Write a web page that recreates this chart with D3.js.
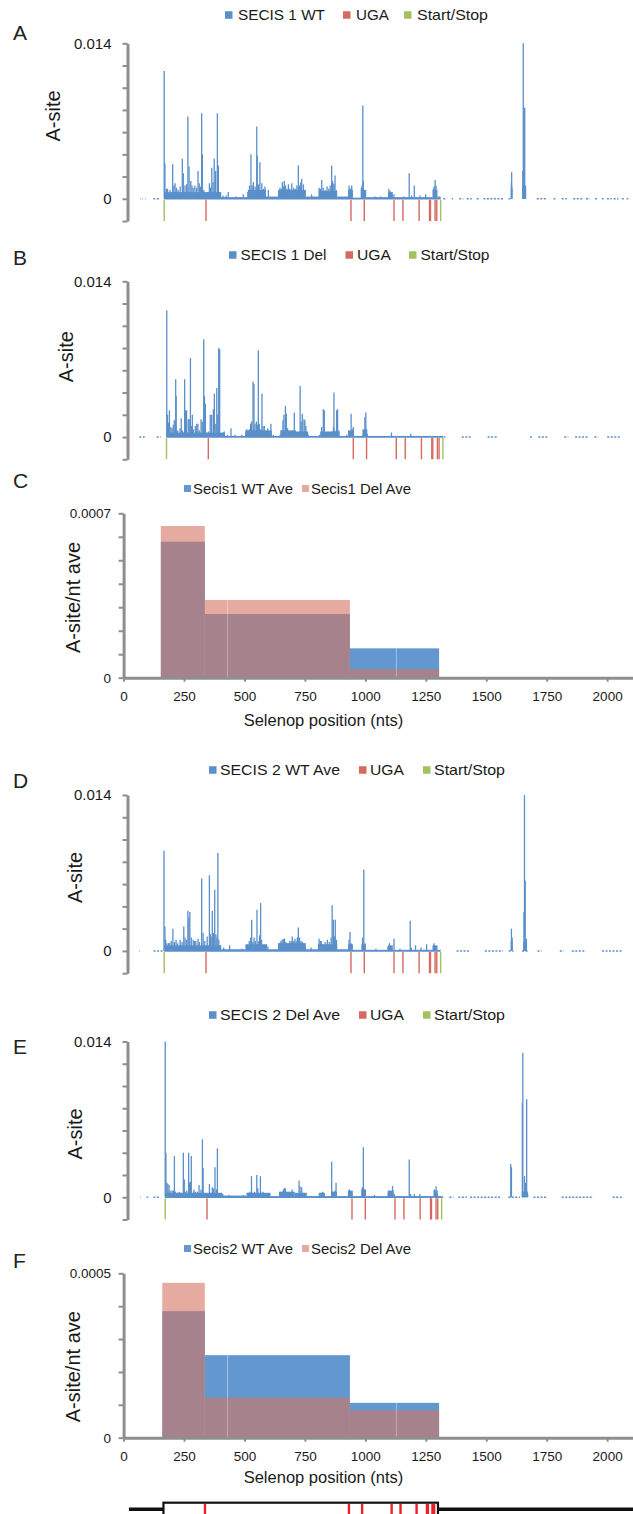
<!DOCTYPE html>
<html lang="en">
<head>
<meta charset="utf-8">
<title>Selenop A-site profiles</title>
<script src="https://cdn.jsdelivr.net/npm/d3@7"></script>
<style>
  body { margin: 0; background: #fff; }
  svg { display: block; font-family: "Liberation Sans", Arial, sans-serif; }
  .axis path, .axis line { stroke: #8e8e8e; }
  .axis path { stroke-width: 3px; }
  .axis line { stroke-width: 2px; }
  .axis text { fill: #1a1a1a; }
</style>
</head>
<body>
<script>
// ---------------- data ----------------
var ugaNt = [327, 927, 982, 1105, 1142, 1209, 1252, 1256, 1275, 1282];
var startStopNt = [154, 1298];
var mrnaExtent = [10, 2120];

var traceTicks = [-0.002, 0, 0.002, 0.004, 0.006, 0.008, 0.010, 0.012, 0.014];
var traceTickLabels = [0, 0.014];

// [nt, A-site value]
var peaksA = [[154,0.0115],[157,0.0032],[163,0.0009],[168,0.0009],[178,0.0008],[189,0.0031],[194,0.0012],[199,0.0014],[205,0.0010],[212,0.0008],[220,0.0011],[229,0.0036],[233,0.0023],[240,0.0012],[247,0.0013],[252,0.0074],[257,0.0029],[264,0.0016],[269,0.0012],[274,0.0010],[281,0.0012],[288,0.0010],[294,0.0025],[299,0.0014],[304,0.0011],[309,0.0077],[312,0.0040],[318,0.0008],[327,0.0003],[334,0.0006],[341,0.0014],[346,0.0010],[351,0.0028],[356,0.0015],[361,0.0036],[367,0.0025],[374,0.0077],[378,0.0030],[384,0.0006],[397,0.0003],[410,0.0003],[419,0.0006],[450,0.0002],[481,0.0004],[500,0.0006],[507,0.0012],[513,0.0040],[518,0.0012],[523,0.0015],[530,0.0011],[537,0.0065],[539,0.0039],[544,0.0013],[550,0.0033],[558,0.0014],[565,0.0009],[571,0.0011],[585,0.0008],[633,0.0010],[638,0.0009],[643,0.0015],[648,0.0011],[651,0.0016],[656,0.0012],[662,0.0009],[668,0.0013],[674,0.0009],[682,0.0014],[690,0.0010],[697,0.0009],[703,0.0012],[709,0.0030],[714,0.0012],[719,0.0015],[723,0.0018],[730,0.0013],[736,0.0007],[764,0.0004],[795,0.0010],[800,0.0009],[806,0.0017],[812,0.0010],[820,0.0008],[828,0.0011],[835,0.0009],[841,0.0012],[847,0.0030],[850,0.0016],[853,0.0014],[857,0.0013],[861,0.0021],[866,0.0008],[919,0.0012],[922,0.0009],[925,0.0009],[930,0.0012],[970,0.0010],[973,0.0012],[976,0.0084],[978,0.0016],[982,0.0005],[1026,0.0002],[1050,0.0002],[1084,0.0009],[1089,0.0007],[1093,0.0005],[1097,0.0004],[1105,0.0004],[1146,0.0002],[1168,0.0023],[1178,0.0003],[1189,0.0012],[1213,0.0003],[1236,0.0004],[1268,0.0009],[1271,0.0011],[1275,0.0017],[1279,0.0012],[1591,0.0015],[1592,0.0024],[1638,0.0025],[1640,0.0140],[1643,0.0082],[1646,0.0082],[1649,0.0012]];
var floorsA = [[154,390,0.0006],[390,500,0.00015],[500,575,0.0008],[575,625,0.0002],[625,740,0.0008],[740,795,0.0002],[795,870,0.0007],[870,915,0.0002],[915,935,0.0008],[935,968,0.0001],[968,990,0.0008],[990,1080,0.00015],[1080,1100,0.0006],[1100,1265,0.00015],[1265,1285,0.0008],[1285,1298,0.0002],[1588,1596,0.0010],[1636,1652,0.0010]];
var utrA = [[54,56],[63,65],[75,77],[109,136],[1309,1323],[1344,1350],[1375,1392],[1406,1427],[1447,1461],[1475,1558],[1579,1592],[1696,1737],[1765,1778],[1799,1820],[1847,1887],[1900,1916],[1937,1951],[1965,1979],[1986,2006],[2014,2034],[2048,2061],[2068,2075]];

var peaksB = [[155,0.0114],[158,0.0020],[162,0.0013],[166,0.0024],[172,0.0009],[177,0.0008],[182,0.0011],[186,0.0015],[192,0.0052],[194,0.0037],[200,0.0006],[203,0.0003],[210,0.0008],[215,0.0017],[220,0.0006],[224,0.0004],[229,0.0052],[233,0.0024],[237,0.0024],[244,0.0016],[248,0.0016],[253,0.0071],[257,0.0010],[261,0.0020],[265,0.0007],[273,0.0010],[279,0.0012],[284,0.0012],[290,0.0006],[297,0.0016],[302,0.0014],[308,0.0088],[311,0.0037],[315,0.0030],[320,0.0003],[327,0.0005],[335,0.0020],[341,0.0020],[348,0.0025],[352,0.0039],[358,0.0012],[362,0.0044],[366,0.0020],[370,0.0080],[374,0.0079],[380,0.0003],[389,0.0004],[393,0.0005],[406,0.0002],[421,0.0008],[438,0.0002],[465,0.0002],[482,0.0004],[486,0.0007],[497,0.0007],[502,0.0012],[506,0.0014],[512,0.0050],[516,0.0048],[520,0.0012],[526,0.0014],[530,0.0011],[534,0.0078],[538,0.0012],[544,0.0007],[549,0.0039],[553,0.0010],[559,0.0010],[564,0.0004],[573,0.0008],[582,0.0005],[586,0.0012],[596,0.0002],[624,0.0002],[630,0.0006],[636,0.0015],[640,0.0020],[646,0.0028],[650,0.0021],[655,0.0008],[662,0.0004],[669,0.0005],[676,0.0006],[683,0.0022],[689,0.0004],[698,0.0003],[707,0.0046],[711,0.0014],[716,0.0021],[723,0.0016],[727,0.0015],[731,0.0010],[741,0.0002],[755,0.0001],[787,0.0002],[796,0.0009],[803,0.0025],[807,0.0024],[824,0.0003],[838,0.0005],[845,0.0009],[847,0.0040],[851,0.0006],[858,0.0024],[862,0.0025],[867,0.0006],[900,0.0002],[911,0.0005],[918,0.0021],[923,0.0007],[927,0.0009],[968,0.0003],[975,0.0018],[979,0.0022],[985,0.0003],[1085,0.0004],[1165,0.0003]];
var floorsB = [[154,395,0.0004],[395,480,0.0001],[480,590,0.0006],[590,625,0.0001],[625,690,0.0006],[690,740,0.0005],[740,790,0.0001],[790,870,0.0005],[870,905,0.0001],[905,930,0.0006],[930,965,0.0001],[965,985,0.0007],[985,1298,0.0001]];
var utrB = [[41,69],[113,130],[1300,1310],[1376,1417],[1483,1525],[1658,1667],[1693,1732],[1800,1817],[1845,1900],[1925,1941],[1978,2031]];

var peaksD = [[153,0.0090],[157,0.0022],[160,0.0010],[165,0.0007],[172,0.0007],[177,0.0007],[183,0.0009],[190,0.0020],[196,0.0008],[203,0.0010],[210,0.0007],[220,0.0010],[228,0.0008],[235,0.0022],[240,0.0012],[246,0.0010],[252,0.0036],[256,0.0030],[260,0.0035],[266,0.0012],[274,0.0010],[280,0.0009],[285,0.0009],[294,0.0011],[300,0.0008],[309,0.0065],[315,0.0016],[322,0.0009],[332,0.0013],[341,0.0068],[345,0.0015],[348,0.0013],[353,0.0036],[358,0.0016],[363,0.0055],[368,0.0015],[372,0.0012],[376,0.0088],[380,0.0010],[386,0.0005],[400,0.0003],[425,0.0005],[475,0.0002],[495,0.0004],[506,0.0009],[512,0.0012],[516,0.0028],[521,0.0008],[526,0.0012],[531,0.0009],[538,0.0037],[545,0.0009],[549,0.0014],[553,0.0043],[557,0.0010],[561,0.0004],[571,0.0005],[583,0.0004],[631,0.0007],[637,0.0009],[642,0.0010],[647,0.0011],[652,0.0011],[658,0.0008],[665,0.0006],[674,0.0009],[680,0.0009],[684,0.0013],[690,0.0009],[695,0.0011],[700,0.0009],[705,0.0012],[709,0.0021],[714,0.0012],[720,0.0009],[726,0.0008],[737,0.0004],[762,0.0003],[795,0.0011],[800,0.0009],[804,0.0009],[810,0.0006],[820,0.0008],[829,0.0010],[837,0.0008],[845,0.0012],[849,0.0041],[854,0.0028],[858,0.0013],[862,0.0028],[867,0.0010],[919,0.0010],[923,0.0017],[928,0.0007],[975,0.0012],[980,0.0073],[985,0.0007],[1030,0.0002],[1080,0.0004],[1086,0.0007],[1092,0.0004],[1105,0.0011],[1130,0.0002],[1172,0.0027],[1177,0.0003],[1194,0.0005],[1217,0.0003],[1240,0.0006],[1268,0.0005],[1271,0.0007],[1276,0.0004],[1591,0.0020],[1594,0.0012],[1643,0.0035],[1645,0.0140],[1648,0.0063],[1653,0.0011]];
var floorsD = [[154,390,0.0005],[390,490,0.00015],[490,580,0.0006],[580,625,0.00015],[625,740,0.0007],[740,790,0.00015],[790,870,0.0006],[870,915,0.00015],[915,935,0.0006],[935,970,0.0001],[970,988,0.0006],[988,1080,0.0001],[1080,1100,0.0005],[1100,1265,0.0001],[1265,1285,0.0005],[1285,1298,0.0001],[1588,1596,0.0008],[1640,1652,0.0008]];
var utrD = [[51,53],[110,152],[1364,1422],[1481,1556],[1580,1600],[1635,1660],[1699,1716],[1791,1807],[1841,1899],[1966,2050]];

var peaksE = [[154,0.0140],[157,0.0040],[161,0.0013],[165,0.0012],[170,0.0011],[174,0.0006],[182,0.0006],[188,0.0006],[192,0.0037],[196,0.0005],[204,0.0004],[212,0.0005],[219,0.0004],[229,0.0040],[233,0.0016],[239,0.0005],[243,0.0006],[251,0.0040],[254,0.0013],[258,0.0014],[262,0.0037],[268,0.0004],[273,0.0007],[279,0.0005],[287,0.0005],[294,0.0011],[302,0.0007],[308,0.0052],[311,0.0026],[316,0.0004],[327,0.0002],[337,0.0012],[344,0.0004],[349,0.0009],[355,0.0008],[360,0.0027],[366,0.0007],[370,0.0044],[375,0.0003],[392,0.0003],[418,0.0002],[478,0.0002],[498,0.0004],[505,0.0005],[511,0.0019],[516,0.0004],[524,0.0005],[533,0.0020],[537,0.0008],[542,0.0004],[548,0.0019],[553,0.0004],[559,0.0005],[567,0.0002],[581,0.0003],[629,0.0004],[636,0.0005],[643,0.0007],[647,0.0008],[651,0.0008],[657,0.0004],[671,0.0003],[679,0.0007],[684,0.0003],[708,0.0015],[712,0.0010],[719,0.0009],[726,0.0004],[733,0.0002],[792,0.0004],[799,0.0004],[806,0.0005],[843,0.0032],[847,0.0005],[857,0.0006],[861,0.0013],[916,0.0007],[920,0.0005],[926,0.0005],[970,0.0009],[974,0.0045],[978,0.0007],[1020,0.0002],[1077,0.0004],[1084,0.0004],[1095,0.0010],[1102,0.0003],[1164,0.0034],[1170,0.0003],[1185,0.0003],[1208,0.0003],[1268,0.0007],[1275,0.0010],[1280,0.0003],[1584,0.0030],[1587,0.0027],[1632,0.0085],[1634,0.0130],[1641,0.0019],[1645,0.0013],[1650,0.0088],[1654,0.0003]];
var floorsE = [[154,390,0.0004],[390,490,0.00015],[490,590,0.0004],[590,625,0.0001],[625,690,0.0005],[690,740,0.0004],[740,795,0.0001],[795,815,0.0004],[815,840,0.0001],[840,865,0.0005],[865,910,0.0001],[910,930,0.0006],[930,965,0.0001],[965,985,0.0007],[985,1075,0.0001],[1075,1100,0.0006],[1100,1265,0.0001],[1265,1282,0.0006],[1282,1298,0.0001],[1630,1655,0.0005]];
var utrE = [[50,52],[77,84],[105,132],[1284,1305],[1330,1347],[1367,1402],[1416,1546],[1574,1622],[1678,1733],[1795,1926],[2006,2050]];

// averaged A-site per nt in regions (bin edges in nts)
var binEdgesC = [154, 336, 430, 936, 1128, 1305];
var wtAveC = [0.000579, 0.000271, 0.000271, 0.000125, 0.000125];
var delAveC = [0.000646, 0.000331, 0.000331, 0.0000358, 0.0000358];
var binEdgesF = [160, 336, 430, 936, 1128, 1305];
var wtAveF = [0.000385, 0.000251, 0.000251, 0.000106, 0.000106];
var delAveF = [0.000471, 0.000122, 0.000122, 0.0000833, 0.0000833];
var aveTicksC = [0, 0.0001, 0.0002, 0.0003, 0.0004, 0.0005, 0.0006, 0.0007];
var aveTicksF = [0, 0.0001, 0.0002, 0.0003, 0.0004, 0.0005];
var positionTicks = [0, 250, 500, 750, 1000, 1250, 1500, 1750, 2000];

// ---------------- style ----------------
var BLUE = '#5a8fca';
var RED = '#d5695f';
var GREEN = '#a3c163';
var AVE_BLUE = '#6298cf';
var AVE_PINK = 'rgb(212,115,97)';

var svg = d3.select('body').append('svg')
    .attr('width', 633).attr('height', 1514);

function panelLetter(txt, y) {
    svg.append('text').attr('x', 13).attr('y', y)
        .attr('font-size', 21).attr('fill', '#222').text(txt);
}

function legend(items, cy, sq, gap, fs) {
    items.forEach(function (it) {
        svg.append('rect').attr('x', it.x).attr('y', cy - sq / 2)
            .attr('width', sq).attr('height', sq).attr('fill', it.color);
        svg.append('text').attr('x', it.x + gap).attr('y', cy + 5.3)
            .attr('font-size', fs).attr('fill', '#1a1a1a')
            .attr('textLength', it.w).attr('lengthAdjust', 'spacingAndGlyphs')
            .text(it.label);
    });
}

function yTitle(txt, cx, cy) {
    svg.append('text')
        .attr('transform', 'translate(' + cx + ',' + cy + ') rotate(-90)')
        .attr('text-anchor', 'middle').attr('dy', '0.35em')
        .attr('font-size', 20).attr('fill', '#1a1a1a').text(txt);
}

function drawTrace(p) {
    var g = svg.append('g');
    var x = d3.scaleLinear().domain([0, 2090]).range(p.xRange);
    var y = d3.scaleLinear().domain([-0.002, 0.014]).range([p.bottom, p.top]);
    var y0 = y(0);

    g.selectAll('rect.floor').data(p.floors).join('rect')
        .attr('x', function (d) { return x(d[0]); })
        .attr('width', function (d) { return x(d[1]) - x(d[0]); })
        .attr('y', function (d) { return y(d[2]); })
        .attr('height', function (d) { return y0 - y(d[2]); })
        .attr('fill', BLUE);

    g.append('line')
        .attr('x1', x(startStopNt[0])).attr('x2', x(startStopNt[1]))
        .attr('y1', y0).attr('y2', y0)
        .attr('stroke', BLUE).attr('stroke-width', 1.6);

    g.selectAll('line.utr').data(p.utr).join('line')
        .attr('x1', function (d) { return x(d[0]); })
        .attr('x2', function (d) { return x(d[1]); })
        .attr('y1', y0).attr('y2', y0)
        .attr('stroke', BLUE).attr('stroke-width', 1.4)
        .attr('stroke-dasharray', '2,1.5');

    g.selectAll('line.peak').data(p.peaks).join('line')
        .attr('x1', function (d) { return x(d[0]); })
        .attr('x2', function (d) { return x(d[0]); })
        .attr('y1', y0).attr('y2', function (d) { return y(d[1]); })
        .attr('stroke', BLUE).attr('stroke-width', 1.3);

    g.selectAll('line.uga').data(ugaNt).join('line')
        .attr('x1', function (d) { return x(d); })
        .attr('x2', function (d) { return x(d); })
        .attr('y1', y0 + 1).attr('y2', y(-0.002))
        .attr('stroke', RED).attr('stroke-width', 1.4);

    g.selectAll('line.ss').data(startStopNt).join('line')
        .attr('x1', function (d) { return x(d); })
        .attr('x2', function (d) { return x(d); })
        .attr('y1', y0 + 1).attr('y2', y(-0.002))
        .attr('stroke', GREEN).attr('stroke-width', 1.4);

    var axis = d3.axisLeft(y).tickValues(traceTicks)
        .tickSize(5).tickSizeOuter(0).tickPadding(11)
        .tickFormat(function (d) {
            return traceTickLabels.indexOf(d) >= 0 ? String(d) : '';
        });
    svg.append('g').attr('class', 'axis')
        .attr('transform', 'translate(' + p.axisX + ',0)')
        .call(axis)
        .call(function (s) { s.selectAll('text').attr('font-size', 15).attr('font-family', null); });

    panelLetter(p.letter, p.letterY);
    legend([
        { label: p.legend[0], color: BLUE, x: p.legendX[0], w: p.legendW[0] },
        { label: 'UGA', color: RED, x: p.legendX[1], w: p.legendW[1] },
        { label: 'Start/Stop', color: GREEN, x: p.legendX[2], w: p.legendW[2] }
    ], p.legendY, 7.5, p.legendGap, 15);
    yTitle('A-site', p.titleX, p.titleY);
}

function drawAve(p) {
    var x = d3.scaleLinear().domain([0, 2107]).range([123.6, 633]);
    var y = d3.scaleLinear().domain([0, p.yMax]).range([p.bottom, p.top]);
    var bins = p.edges.slice(0, -1).map(function (e, i) {
        return { x0: e, x1: p.edges[i + 1], wt: p.wt[i], del: p.del[i] };
    });
    var g = svg.append('g');
    g.selectAll('rect.wt').data(bins).join('rect')
        .attr('x', function (d) { return x(d.x0); })
        .attr('width', function (d) { return x(d.x1) - x(d.x0); })
        .attr('y', function (d) { return y(d.wt); })
        .attr('height', function (d) { return y(0) - y(d.wt); })
        .attr('fill', AVE_BLUE);
    g.selectAll('rect.del').data(bins).join('rect')
        .attr('x', function (d) { return x(d.x0); })
        .attr('width', function (d) { return x(d.x1) - x(d.x0); })
        .attr('y', function (d) { return y(d.del); })
        .attr('height', function (d) { return y(0) - y(d.del); })
        .attr('fill', AVE_PINK).attr('fill-opacity', 0.6);
    // faint seams where neighbouring regions have the same level
    var seams = bins.slice(1).filter(function (d, i) {
        return d.wt === bins[i].wt && d.del === bins[i].del;
    });
    g.selectAll('line.seam').data(seams).join('line')
        .attr('x1', function (d) { return x(d.x0); })
        .attr('x2', function (d) { return x(d.x0); })
        .attr('y1', y(0))
        .attr('y2', function (d) { return y(Math.max(d.wt, d.del)); })
        .attr('stroke', '#fff').attr('stroke-opacity', 0.3).attr('stroke-width', 0.8);

    var yAxis = d3.axisLeft(y).tickValues(p.ticks)
        .tickSize(5).tickSizeOuter(0).tickPadding(7.6)
        .tickFormat(function (d) { return (d === 0 || d === p.yMax) ? String(d) : ''; });
    svg.append('g').attr('class', 'axis')
        .attr('transform', 'translate(123.6,0)')
        .call(yAxis)
        .call(function (s) { s.selectAll('text').attr('font-size', 13.5).attr('font-family', null); });

    var xAxis = d3.axisBottom(x).tickValues(positionTicks)
        .tickSize(4).tickSizeOuter(0).tickPadding(9.6)
        .tickFormat(d3.format('d'));
    svg.append('g').attr('class', 'axis')
        .attr('transform', 'translate(0,' + p.bottom + ')')
        .call(xAxis)
        .call(function (s) { s.selectAll('text').attr('font-size', 13.5).attr('font-family', null); });

    svg.append('text').attr('x', 323.5).attr('y', p.xTitleY)
        .attr('text-anchor', 'middle').attr('font-size', 16.5).attr('fill', '#1a1a1a')
        .text('Selenop position (nts)');

    panelLetter(p.letter, p.letterY);
    legend([
        { label: p.legend[0], color: AVE_BLUE, x: 184, w: 100 },
        { label: p.legend[1], color: 'rgb(229,171,160)', x: 302, w: 100 }
    ], p.legendY, 7, 9, 14.5);
    yTitle('A-site/nt ave', 72.7, p.titleY);
}

drawTrace({ letter: 'A', letterY: 40, legend: ['SECIS 1 WT'], legendX: [225, 343, 404], legendW: [87, 33, 71],
    legendY: 15, legendGap: 13, top: 43.3, bottom: 221, xRange: [127, 632], axisX: 127.5,
    peaks: peaksA, floors: floorsA, utr: utrA, titleX: 52.5, titleY: 116 });
drawTrace({ letter: 'B', letterY: 265, legend: ['SECIS 1 Del'], legendX: [229, 345.5, 409], legendW: [86, 34, 69],
    legendY: 255, legendGap: 11.5, top: 281.3, bottom: 459.3, xRange: [129.3, 634.3], axisX: 127.5,
    peaks: peaksB, floors: floorsB, utr: utrB, titleX: 65.6, titleY: 356.7 });
drawAve({ letter: 'C', letterY: 488, legend: ['Secis1 WT Ave', 'Secis1 Del Ave'], legendY: 488.5,
    top: 513.3, bottom: 677.7, yMax: 0.0007, ticks: aveTicksC, edges: binEdgesC, wt: wtAveC, del: delAveC,
    xTitleY: 725.5, titleY: 597.5 });
drawTrace({ letter: 'D', letterY: 787.7, legend: ['SECIS 2 WT Ave'], legendX: [209, 359, 423], legendW: [120, 34, 71],
    legendY: 770, legendGap: 11, top: 795, bottom: 973.2, xRange: [127, 632], axisX: 127.5,
    peaks: peaksD, floors: floorsD, utr: utrD, titleX: 74.7, titleY: 877.5 });
drawTrace({ letter: 'E', letterY: 1054, legend: ['SECIS 2 Del Ave'], legendX: [209, 359, 423], legendW: [120, 34, 71],
    legendY: 1015, legendGap: 11, top: 1041.5, bottom: 1219.5, xRange: [128, 633], axisX: 127.5,
    peaks: peaksE, floors: floorsE, utr: utrE, titleX: 74.7, titleY: 1134 });
drawAve({ letter: 'F', letterY: 1267.7, legend: ['Secis2 WT Ave', 'Secis2 Del Ave'], legendY: 1248.5,
    top: 1273.3, bottom: 1437.7, yMax: 0.0005, ticks: aveTicksF, edges: binEdgesF, wt: wtAveF, del: delAveF,
    xTitleY: 1483, titleY: 1366.7 });

// gene diagram at the bottom
var geneX = d3.scaleLinear().domain([0, 2090]).range([126.5, 628]);
svg.append('line')
    .attr('x1', geneX(mrnaExtent[0])).attr('x2', geneX(mrnaExtent[1]))
    .attr('y1', 1509.3).attr('y2', 1509.3)
    .attr('stroke', '#111').attr('stroke-width', 3.5);
svg.append('rect')
    .attr('x', geneX(startStopNt[0])).attr('y', 1502.7)
    .attr('width', geneX(startStopNt[1]) - geneX(startStopNt[0])).attr('height', 30)
    .attr('fill', '#fff').attr('stroke', '#111').attr('stroke-width', 2.2);
svg.selectAll('line.secTick').data(ugaNt).join('line')
    .attr('x1', function (d) { return geneX(d); })
    .attr('x2', function (d) { return geneX(d); })
    .attr('y1', 1504).attr('y2', 1514)
    .attr('stroke', '#e8232b').attr('stroke-width', 2.4);
</script>
</body>
</html>
